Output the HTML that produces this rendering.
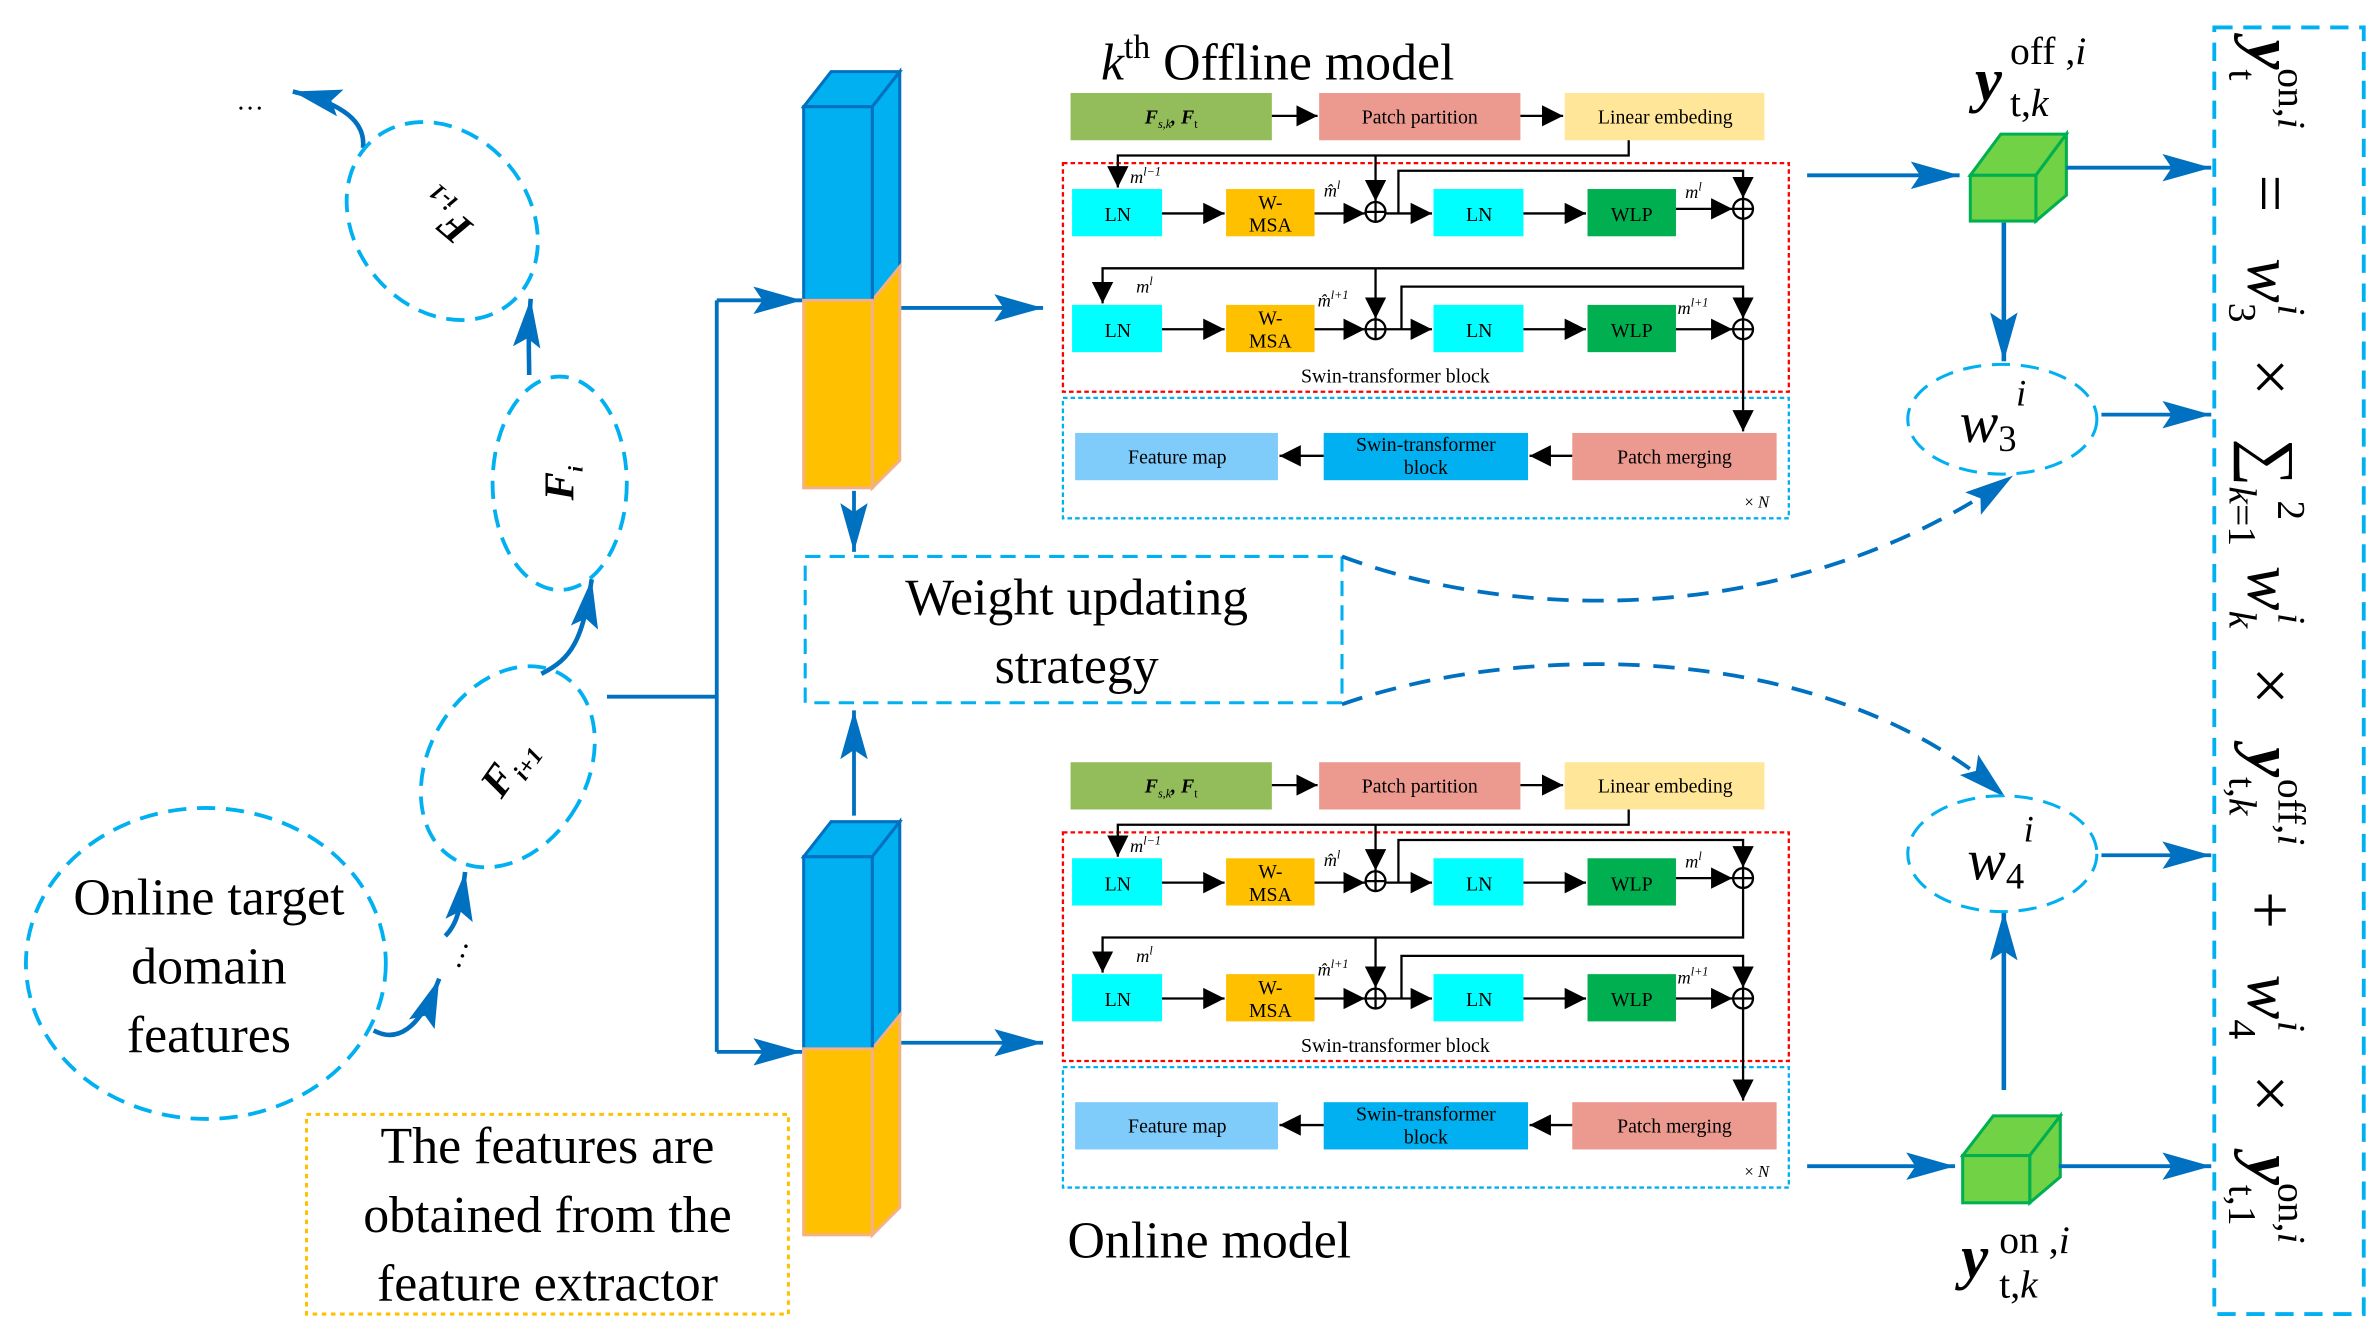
<!DOCTYPE html>
<html><head><meta charset="utf-8"><style>
html,body{margin:0;padding:0;background:#fff}
svg{display:block}
text{font-family:"Liberation Serif",serif}
</style></head><body>
<svg width="2379" height="1340" viewBox="0 0 1560 879" preserveAspectRatio="none" xmlns="http://www.w3.org/2000/svg">
<defs>
<marker id="ab" markerUnits="userSpaceOnUse" markerWidth="16" markerHeight="14" refX="14" refY="7" orient="auto"><path d="M0,0 L14,7 L0,14 z" fill="#000"/></marker>
<marker id="au" markerUnits="userSpaceOnUse" markerWidth="34" markerHeight="20" refX="32" refY="10" orient="auto"><path d="M0,1 L32,10 L0,19 L6,10 z" fill="#0070C0"/></marker>
</defs>

<!-- LEFT -->
<text x="155" y="72" font-size="18">…</text>
<path d="M238,97 C240,80 225,68 192,60" fill="none" stroke="#0070C0" stroke-width="3" marker-end="url(#au)"/>
<ellipse cx="290" cy="145" rx="57" ry="70" transform="rotate(-40 290 145)" fill="none" stroke="#00B0F0" stroke-width="2.5" stroke-dasharray="12,7"/>
<text x="292" y="150" font-size="28" font-weight="bold" font-style="italic" text-anchor="middle" transform="rotate(-140 292 142)">F<tspan font-size="16" dy="6">i-1</tspan></text>
<path d="M347,246 C347,232 346,220 348,196" fill="none" stroke="#0070C0" stroke-width="3" marker-end="url(#au)"/>
<ellipse cx="367" cy="317" rx="44" ry="70" fill="none" stroke="#00B0F0" stroke-width="2.5" stroke-dasharray="12,7"/>
<text x="367" y="326" font-size="28" font-weight="bold" font-style="italic" text-anchor="middle" transform="rotate(-90 367 317)">F<tspan font-size="14" dy="6">i</tspan></text>
<path d="M355,442 C375,432 382,420 388,380" fill="none" stroke="#0070C0" stroke-width="3" marker-end="url(#au)"/>
<ellipse cx="333" cy="503" rx="52" ry="70" transform="rotate(30 333 503)" fill="none" stroke="#00B0F0" stroke-width="2.5" stroke-dasharray="12,7"/>
<text x="333" y="512" font-size="28" font-weight="bold" font-style="italic" text-anchor="middle" transform="rotate(-55 333 503)">F<tspan font-size="16" dy="6">i+1</tspan></text>
<text x="296" y="640" font-size="20" transform="rotate(-70 296 635)">…</text>
<path d="M292,614 C300,606 302,596 305,572" fill="none" stroke="#0070C0" stroke-width="3" marker-end="url(#au)"/>
<ellipse cx="135" cy="632" rx="118" ry="102" fill="none" stroke="#00B0F0" stroke-width="2.5" stroke-dasharray="12,7"/>
<text font-size="34" text-anchor="middle"><tspan x="137" y="600">Online target</tspan><tspan x="137" y="645">domain</tspan><tspan x="137" y="690">features</tspan></text>
<path d="M245,676 C260,684 275,676 288,642" fill="none" stroke="#0070C0" stroke-width="3" marker-end="url(#au)"/>
<rect x="201" y="731" width="316" height="131" fill="none" stroke="#FFC000" stroke-width="2" stroke-dasharray="3,3"/>
<text font-size="34" text-anchor="middle"><tspan x="359" y="763">The features are</tspan><tspan x="359" y="808">obtained from the</tspan><tspan x="359" y="853">feature extractor</tspan></text>

<path d="M398,457 H470 M470,197 V690" stroke="#0070C0" stroke-width="2.5" fill="none"/>
<path d="M470,197 H526" stroke="#0070C0" stroke-width="2.5" marker-end="url(#au)"/>
<path d="M470,690 H526" stroke="#0070C0" stroke-width="2.5" marker-end="url(#au)"/>

<!-- cuboids -->
<g stroke-width="2">
<polygon points="527,70 545,47 590,47 572,70" fill="#00B0F0" stroke="#0070C0"/>
<polygon points="572,70 590,47 590,175 572,197" fill="#00B0F0" stroke="#0070C0"/>
<polygon points="572,197 590,175 590,302 572,320" fill="#FFC000" stroke="#F4B183"/>
<rect x="527" y="70" width="45" height="127" fill="#00B0F0" stroke="#0070C0"/>
<rect x="527" y="197" width="45" height="123" fill="#FFC000" stroke="#F4B183"/>
<polygon points="527,562 545,539 590,539 572,562" fill="#00B0F0" stroke="#0070C0"/>
<polygon points="572,562 590,539 590,666 572,688" fill="#00B0F0" stroke="#0070C0"/>
<polygon points="572,688 590,666 590,792 572,810" fill="#FFC000" stroke="#F4B183"/>
<rect x="527" y="562" width="45" height="126" fill="#00B0F0" stroke="#0070C0"/>
<rect x="527" y="688" width="45" height="122" fill="#FFC000" stroke="#F4B183"/>
</g>
<path d="M560,322 V362" stroke="#0070C0" stroke-width="2.5" marker-end="url(#au)"/>
<path d="M560,535 V466" stroke="#0070C0" stroke-width="2.5" marker-end="url(#au)"/>
<rect x="528" y="365" width="352" height="96" fill="none" stroke="#00B0F0" stroke-width="2" stroke-dasharray="10,6"/>
<text font-size="34" text-anchor="middle"><tspan x="706" y="403">Weight updating</tspan><tspan x="706" y="448">strategy</tspan></text>
<path d="M591,202 H684" stroke="#0070C0" stroke-width="2.5" marker-end="url(#au)"/>
<path d="M591,684 H684" stroke="#0070C0" stroke-width="2.5" marker-end="url(#au)"/>

<path d="M880,365 C1000,410 1180,410 1320,312" fill="none" stroke="#0070C0" stroke-width="2.5" stroke-dasharray="14,9" marker-end="url(#au)"/>
<path d="M880,462 C1000,420 1200,420 1315,523" fill="none" stroke="#0070C0" stroke-width="2.5" stroke-dasharray="14,9" marker-end="url(#au)"/>

<!-- OFFLINE MODEL -->
<text x="722" y="52" font-size="34"><tspan font-style="italic">k</tspan><tspan font-size="22" dy="-14">th</tspan><tspan dy="14"> Offline model</tspan></text>
<g>
<g font-size="13" text-anchor="middle">
<rect x="702" y="61" width="132" height="31" fill="#92BD5A"/>
<text x="768" y="81" font-weight="bold" font-style="italic">F<tspan font-size="8" dy="3" font-weight="normal">s,k</tspan><tspan dy="-3">, F</tspan><tspan font-size="8" dy="3" font-weight="normal" font-style="normal">t</tspan></text>
<rect x="865" y="61" width="132" height="31" fill="#EC9A90"/><text x="931" y="81">Patch partition</text>
<rect x="1026" y="61" width="131" height="31" fill="#FFE699"/><text x="1092" y="81">Linear embeding</text>
<rect x="697" y="107" width="476" height="150" fill="none" stroke="#FF0000" stroke-width="1.5" stroke-dasharray="3,2"/>
<rect x="703" y="124" width="59" height="31" fill="#00FFFF"/><text x="733" y="145">LN</text>
<rect x="804" y="124" width="58" height="31" fill="#FFC000"/><text x="833" y="137">W-</text><text x="833" y="152">MSA</text>
<rect x="940" y="124" width="59" height="31" fill="#00FFFF"/><text x="970" y="145">LN</text>
<rect x="1041" y="124" width="58" height="31" fill="#00B050"/><text x="1070" y="145">WLP</text>
<rect x="703" y="200" width="59" height="31" fill="#00FFFF"/><text x="733" y="221">LN</text>
<rect x="804" y="200" width="58" height="31" fill="#FFC000"/><text x="833" y="213">W-</text><text x="833" y="228">MSA</text>
<rect x="940" y="200" width="59" height="31" fill="#00FFFF"/><text x="970" y="221">LN</text>
<rect x="1041" y="200" width="58" height="31" fill="#00B050"/><text x="1070" y="221">WLP</text>
<text x="915" y="251">Swin-transformer block</text>
<rect x="697" y="261" width="476" height="79" fill="none" stroke="#00B0F0" stroke-width="1.5" stroke-dasharray="3,2"/>
<rect x="705" y="284" width="133" height="31" fill="#7FCBFA"/><text x="772" y="304">Feature map</text>
<rect x="868" y="284" width="134" height="31" fill="#00B0F0"/><text x="935" y="296">Swin-transformer</text><text x="935" y="311">block</text>
<rect x="1031" y="284" width="134" height="31" fill="#EC9A90"/><text x="1098" y="304">Patch merging</text>
<text x="1152" y="333" font-size="11" text-anchor="middle">× <tspan font-style="italic">N</tspan></text>
</g>
<g fill="none" stroke="#000" stroke-width="1.5">
<path d="M834,76 H864" marker-end="url(#ab)"/>
<path d="M997,76 H1025" marker-end="url(#ab)"/>
<path d="M1068,92 V102 H733 V123" marker-end="url(#ab)"/>
<path d="M902,102 V132" marker-end="url(#ab)"/>
<path d="M762,140 H803" marker-end="url(#ab)"/>
<path d="M862,140 H895" marker-end="url(#ab)"/>
<path d="M909,140 H939" marker-end="url(#ab)"/>
<path d="M917,140 V112 H1143 V130" marker-end="url(#ab)"/>
<path d="M999,140 H1040" marker-end="url(#ab)"/>
<path d="M1099,137 H1136" marker-end="url(#ab)"/>
<circle cx="902" cy="139" r="6.5"/><path d="M895.5,139 H908.5 M902,132.5 V145.5"/>
<circle cx="1143" cy="137" r="6.5"/><path d="M1136.5,137 H1149.5 M1143,130.5 V143.5"/>
<path d="M1143,144 V176 H723 V199" marker-end="url(#ab)"/>
<path d="M902,176 V209" marker-end="url(#ab)"/>
<path d="M762,216 H803" marker-end="url(#ab)"/>
<path d="M862,216 H895" marker-end="url(#ab)"/>
<path d="M909,216 H939" marker-end="url(#ab)"/>
<path d="M919,216 V188 H1143 V209" marker-end="url(#ab)"/>
<path d="M999,216 H1040" marker-end="url(#ab)"/>
<path d="M1099,216 H1136" marker-end="url(#ab)"/>
<circle cx="902" cy="216" r="6.5"/><path d="M895.5,216 H908.5 M902,209.5 V222.5"/>
<circle cx="1143" cy="216" r="6.5"/><path d="M1136.5,216 H1149.5 M1143,209.5 V222.5"/>
<path d="M1143,223 V283" marker-end="url(#ab)"/>
<path d="M1031,299 H1003" marker-end="url(#ab)"/>
<path d="M868,299 H839" marker-end="url(#ab)"/>
</g>
<g font-size="12" font-style="italic">
<text x="741" y="120">m<tspan font-size="8" dy="-5">l−1</tspan></text>
<text x="868" y="129">m̂<tspan font-size="8" dy="-5">l</tspan></text>
<text x="1105" y="130">m<tspan font-size="8" dy="-5">l</tspan></text>
<text x="745" y="192">m<tspan font-size="8" dy="-5">l</tspan></text>
<text x="864" y="201">m̂<tspan font-size="8" dy="-5">l+1</tspan></text>
<text x="1100" y="206">m<tspan font-size="8" dy="-5">l+1</tspan></text>
</g>
</g>

<!-- ONLINE MODEL -->
<g transform="translate(0,439)">
<g font-size="13" text-anchor="middle">
<rect x="702" y="61" width="132" height="31" fill="#92BD5A"/>
<text x="768" y="81" font-weight="bold" font-style="italic">F<tspan font-size="8" dy="3" font-weight="normal">s,k</tspan><tspan dy="-3">, F</tspan><tspan font-size="8" dy="3" font-weight="normal" font-style="normal">t</tspan></text>
<rect x="865" y="61" width="132" height="31" fill="#EC9A90"/><text x="931" y="81">Patch partition</text>
<rect x="1026" y="61" width="131" height="31" fill="#FFE699"/><text x="1092" y="81">Linear embeding</text>
<rect x="697" y="107" width="476" height="150" fill="none" stroke="#FF0000" stroke-width="1.5" stroke-dasharray="3,2"/>
<rect x="703" y="124" width="59" height="31" fill="#00FFFF"/><text x="733" y="145">LN</text>
<rect x="804" y="124" width="58" height="31" fill="#FFC000"/><text x="833" y="137">W-</text><text x="833" y="152">MSA</text>
<rect x="940" y="124" width="59" height="31" fill="#00FFFF"/><text x="970" y="145">LN</text>
<rect x="1041" y="124" width="58" height="31" fill="#00B050"/><text x="1070" y="145">WLP</text>
<rect x="703" y="200" width="59" height="31" fill="#00FFFF"/><text x="733" y="221">LN</text>
<rect x="804" y="200" width="58" height="31" fill="#FFC000"/><text x="833" y="213">W-</text><text x="833" y="228">MSA</text>
<rect x="940" y="200" width="59" height="31" fill="#00FFFF"/><text x="970" y="221">LN</text>
<rect x="1041" y="200" width="58" height="31" fill="#00B050"/><text x="1070" y="221">WLP</text>
<text x="915" y="251">Swin-transformer block</text>
<rect x="697" y="261" width="476" height="79" fill="none" stroke="#00B0F0" stroke-width="1.5" stroke-dasharray="3,2"/>
<rect x="705" y="284" width="133" height="31" fill="#7FCBFA"/><text x="772" y="304">Feature map</text>
<rect x="868" y="284" width="134" height="31" fill="#00B0F0"/><text x="935" y="296">Swin-transformer</text><text x="935" y="311">block</text>
<rect x="1031" y="284" width="134" height="31" fill="#EC9A90"/><text x="1098" y="304">Patch merging</text>
<text x="1152" y="333" font-size="11" text-anchor="middle">× <tspan font-style="italic">N</tspan></text>
</g>
<g fill="none" stroke="#000" stroke-width="1.5">
<path d="M834,76 H864" marker-end="url(#ab)"/>
<path d="M997,76 H1025" marker-end="url(#ab)"/>
<path d="M1068,92 V102 H733 V123" marker-end="url(#ab)"/>
<path d="M902,102 V132" marker-end="url(#ab)"/>
<path d="M762,140 H803" marker-end="url(#ab)"/>
<path d="M862,140 H895" marker-end="url(#ab)"/>
<path d="M909,140 H939" marker-end="url(#ab)"/>
<path d="M917,140 V112 H1143 V130" marker-end="url(#ab)"/>
<path d="M999,140 H1040" marker-end="url(#ab)"/>
<path d="M1099,137 H1136" marker-end="url(#ab)"/>
<circle cx="902" cy="139" r="6.5"/><path d="M895.5,139 H908.5 M902,132.5 V145.5"/>
<circle cx="1143" cy="137" r="6.5"/><path d="M1136.5,137 H1149.5 M1143,130.5 V143.5"/>
<path d="M1143,144 V176 H723 V199" marker-end="url(#ab)"/>
<path d="M902,176 V209" marker-end="url(#ab)"/>
<path d="M762,216 H803" marker-end="url(#ab)"/>
<path d="M862,216 H895" marker-end="url(#ab)"/>
<path d="M909,216 H939" marker-end="url(#ab)"/>
<path d="M919,216 V188 H1143 V209" marker-end="url(#ab)"/>
<path d="M999,216 H1040" marker-end="url(#ab)"/>
<path d="M1099,216 H1136" marker-end="url(#ab)"/>
<circle cx="902" cy="216" r="6.5"/><path d="M895.5,216 H908.5 M902,209.5 V222.5"/>
<circle cx="1143" cy="216" r="6.5"/><path d="M1136.5,216 H1149.5 M1143,209.5 V222.5"/>
<path d="M1143,223 V283" marker-end="url(#ab)"/>
<path d="M1031,299 H1003" marker-end="url(#ab)"/>
<path d="M868,299 H839" marker-end="url(#ab)"/>
</g>
<g font-size="12" font-style="italic">
<text x="741" y="120">m<tspan font-size="8" dy="-5">l−1</tspan></text>
<text x="868" y="129">m̂<tspan font-size="8" dy="-5">l</tspan></text>
<text x="1105" y="130">m<tspan font-size="8" dy="-5">l</tspan></text>
<text x="745" y="192">m<tspan font-size="8" dy="-5">l</tspan></text>
<text x="864" y="201">m̂<tspan font-size="8" dy="-5">l+1</tspan></text>
<text x="1100" y="206">m<tspan font-size="8" dy="-5">l+1</tspan></text>
</g>
</g>
<text x="700" y="825" font-size="34">Online model</text>

<!-- RIGHT -->
<path d="M1185,115 H1285" stroke="#0070C0" stroke-width="2.5" marker-end="url(#au)"/>
<path d="M1185,765 H1282" stroke="#0070C0" stroke-width="2.5" marker-end="url(#au)"/>
<g stroke="#00B050" stroke-width="2" fill="#70D244">
<polygon points="1292,115 1312,88 1355,88 1335,115"/>
<polygon points="1335,115 1355,88 1355,128 1335,145"/>
<rect x="1292" y="115" width="43" height="30"/>
<polygon points="1287,758 1307,732 1351,732 1331,758"/>
<polygon points="1331,758 1351,732 1351,772 1331,789"/>
<rect x="1287" y="758" width="44" height="31"/>
</g>
<text x="1295" y="66" font-size="40" font-weight="bold" font-style="italic">y</text>
<text x="1318" y="42" font-size="26">off ,<tspan font-style="italic">i</tspan></text>
<text x="1318" y="76" font-size="26">t,<tspan font-style="italic">k</tspan></text>
<text x="1286" y="838" font-size="40" font-weight="bold" font-style="italic">y</text>
<text x="1311" y="822" font-size="26">on ,<tspan font-style="italic">i</tspan></text>
<text x="1311" y="851" font-size="26">t,<tspan font-style="italic">k</tspan></text>
<path d="M1314,146 V237" stroke="#0070C0" stroke-width="3" marker-end="url(#au)"/>
<path d="M1314,715 V598" stroke="#0070C0" stroke-width="3" marker-end="url(#au)"/>
<ellipse cx="1313" cy="275" rx="62" ry="36" fill="none" stroke="#00B0F0" stroke-width="2" stroke-dasharray="12,7"/>
<text x="1285" y="290" font-size="38" font-style="italic">w<tspan font-size="24" font-style="normal" dy="6">3</tspan></text>
<text x="1322" y="266" font-size="24" font-style="italic">i</text>
<ellipse cx="1313" cy="560" rx="62" ry="38" fill="none" stroke="#00B0F0" stroke-width="2" stroke-dasharray="12,7"/>
<text x="1290" y="577" font-size="38" font-style="italic">w<tspan font-size="24" font-style="normal" dy="6">4</tspan></text>
<text x="1327" y="552" font-size="24" font-style="italic">i</text>
<path d="M1355,110 H1450" stroke="#0070C0" stroke-width="2.5" marker-end="url(#au)"/>
<path d="M1378,272 H1450" stroke="#0070C0" stroke-width="2.5" marker-end="url(#au)"/>
<path d="M1378,561 H1450" stroke="#0070C0" stroke-width="2.5" marker-end="url(#au)"/>
<path d="M1350,765 H1450" stroke="#0070C0" stroke-width="2.5" marker-end="url(#au)"/>
<rect x="1452" y="18" width="98" height="844" fill="none" stroke="#00B0F0" stroke-width="2.5" stroke-dasharray="12,7"/>
<text x="0" y="0" font-size="44" transform="translate(1474,26) rotate(90)"><tspan font-weight="bold" font-style="italic">y</tspan><tspan font-size="26" dy="12">t</tspan><tspan font-size="26" dx="-8" dy="-32">on,<tspan font-style="italic">i</tspan></tspan><tspan dx="30" dy="20">=</tspan><tspan dx="30" font-style="italic">w</tspan><tspan font-size="26" dy="12">3</tspan><tspan font-size="26" font-style="italic" dx="-12" dy="-32">i</tspan><tspan dx="28" dy="20">×</tspan><tspan dx="28">∑</tspan><tspan font-size="26" dy="12" font-style="italic">k</tspan><tspan font-size="26" dy="0">=1</tspan><tspan font-size="26" dx="-30" dy="-32">2</tspan><tspan dx="30" dy="20" font-style="italic">w</tspan><tspan font-size="26" font-style="italic" dy="12">k</tspan><tspan font-size="26" font-style="italic" dx="-10" dy="-32">i</tspan><tspan dx="28" dy="20">×</tspan><tspan dx="28" font-weight="bold" font-style="italic">y</tspan><tspan font-size="26" dy="12">t,<tspan font-style="italic">k</tspan></tspan><tspan font-size="26" dx="-24" dy="-32">off,<tspan font-style="italic">i</tspan></tspan><tspan dx="30" dy="20">+</tspan><tspan dx="30" font-style="italic">w</tspan><tspan font-size="26" dy="12">4</tspan><tspan font-size="26" font-style="italic" dx="-12" dy="-32">i</tspan><tspan dx="28" dy="20">×</tspan><tspan dx="28" font-weight="bold" font-style="italic">y</tspan><tspan font-size="26" dy="12">t,1</tspan><tspan font-size="26" dx="-28" dy="-32">on,<tspan font-style="italic">i</tspan></tspan></text>
</svg>
</body></html>
